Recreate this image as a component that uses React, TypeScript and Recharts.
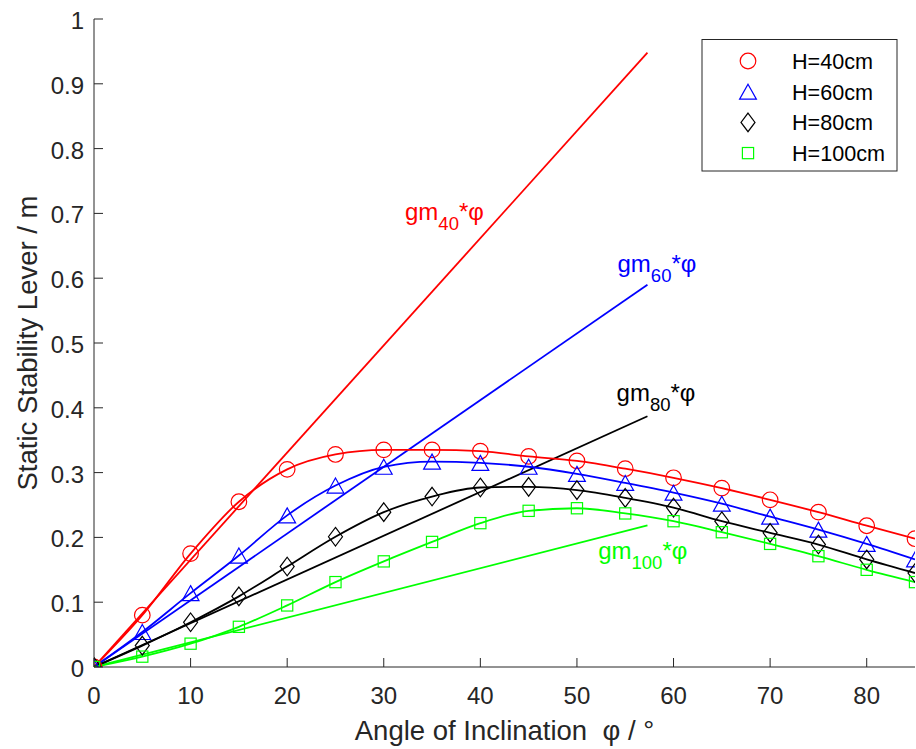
import React from 'react';
import { LineChart, Line, XAxis, YAxis, ReferenceDot } from 'recharts';

// ---------- data ----------
const angles = [0, 5, 10, 15, 20, 25, 30, 35, 40, 45, 50, 55, 60, 65, 70, 75, 80, 85];
const h40 = [0, 0.080, 0.175, 0.255, 0.305, 0.328, 0.335, 0.335, 0.333, 0.325, 0.318, 0.306, 0.292, 0.276, 0.258, 0.239, 0.218, 0.198];
const h60 = [0, 0.054, 0.114, 0.172, 0.234, 0.280, 0.309, 0.317, 0.315, 0.309, 0.298, 0.284, 0.269, 0.252, 0.232, 0.212, 0.190, 0.166];
const h80 = [0, 0.033, 0.069, 0.109, 0.155, 0.201, 0.239, 0.263, 0.277, 0.278, 0.273, 0.261, 0.246, 0.225, 0.207, 0.189, 0.166, 0.145];
const h100 = [0, 0.016, 0.036, 0.062, 0.095, 0.131, 0.163, 0.193, 0.222, 0.241, 0.245, 0.237, 0.225, 0.208, 0.190, 0.171, 0.150, 0.131];

const gmAngles = [0, 57.3];
const gm40 = [0, 0.948];
const gm60 = [0, 0.590];
const gm80 = [0, 0.387];
const gm100 = [0, 0.2185];

const seriesNames = ['H=40cm', 'H=60cm', 'H=80cm', 'H=100cm'];
const gmSubs = ['40', '60', '80', '100'];
const gmLabelX = [32.2, 54.2, 54.1, 52.2];
const gmLabelY = [0.690, 0.610, 0.410, 0.166];

const xTicks = [0, 10, 20, 30, 40, 50, 60, 70, 80];
const yTicks = [0, 0.1, 0.2, 0.3, 0.4, 0.5, 0.6, 0.7, 0.8, 0.9, 1];
const yTickLabels = ['0', '0.1', '0.2', '0.3', '0.4', '0.5', '0.6', '0.7', '0.8', '0.9', '1'];

const xTitle = 'Angle of Inclination  \u03C6 / \u00B0';
const yTitle = 'Static Stability Lever / m';

// ---------- styles ----------
const AXIS = '#262626';
const FONT = '"Liberation Sans", Arial, Helvetica, sans-serif';
const colors = ['#FF0000', '#0000FF', '#000000', '#00FF00'];
const shapes = ['circle', 'triangle', 'diamond', 'square'];

const toPts = (xs: number[], ys: number[]) => xs.map((x, i) => ({ x, y: ys[i] }));
const curves = [h40, h60, h80, h100].map((v) => toPts(angles, v));
const gmLines = [gm40, gm60, gm80, gm100].map((v) => toPts(gmAngles, v));

const Marker = ({ shape, cx, cy, color }: any) => {
  const common = { fill: 'none', stroke: color, strokeWidth: 1.2 };
  if (shape === 'circle') return <circle cx={cx} cy={cy} r={7.8} {...common} />;
  if (shape === 'triangle')
    return <polygon points={`${cx},${cy - 7.5} ${cx + 8.4},${cy + 7.5} ${cx - 8.4},${cy + 7.5}`} {...common} />;
  if (shape === 'diamond')
    return <polygon points={`${cx},${cy - 9.3} ${cx + 7},${cy} ${cx},${cy + 9.3} ${cx - 7},${cy}`} {...common} />;
  return <rect x={cx - 5.6} y={cy - 5.6} width={11.2} height={11.2} {...common} />;
};

const makeDot = (shape: string, color: string) => (p: any) => (
  <Marker key={`${shape}-${p.index}`} shape={shape} cx={p.cx} cy={p.cy} color={color} />
);

const BottomTick = (p: any) => (
  <g>
    <line x1={p.x} x2={p.x} y1={p.y} y2={p.y - 9} stroke={AXIS} />
    <text x={p.x} y={p.y + 36.5} textAnchor="middle" fontSize={24} fill={AXIS} fontFamily={FONT}>
      {p.payload.value}
    </text>
  </g>
);
const TopTick = (p: any) => (
  <g>
    <line x1={p.x} x2={p.x} y1={p.y} y2={p.y + 9} stroke={AXIS} />
  </g>
);
const LeftTick = (p: any) => {
  const idx = yTicks.findIndex((t) => Math.abs(t - p.payload.value) < 1e-9);
  return (
    <g>
      <line x1={p.x} x2={p.x + 9} y1={p.y} y2={p.y} stroke={AXIS} />
      <text x={p.x - 10} y={p.y + 10} textAnchor="end" fontSize={24} fill={AXIS} fontFamily={FONT}>
        {yTickLabels[idx] ?? String(p.payload.value)}
      </text>
    </g>
  );
};
const RightTick = (p: any) => (
  <g>
    <line x1={p.x} x2={p.x - 9} y1={p.y} y2={p.y} stroke={AXIS} />
  </g>
);

const XTitle = (props: any) => {
  const vb = props.viewBox || {};
  const x = (vb.x ?? 94) + (vb.width ?? 821) / 2;
  const y = (vb.y ?? 667) + 73;
  return (
    <text x={x} y={y} textAnchor="middle" fontSize={27.5} fill={AXIS} fontFamily={FONT} style={{ whiteSpace: 'pre' }}>
      {xTitle}
    </text>
  );
};
const YTitle = (props: any) => {
  const vb = props.viewBox || {};
  const x = 37;
  const y = (vb.y ?? 19) + (vb.height ?? 648) / 2;
  return (
    <text x={x} y={y} textAnchor="middle" fontSize={27.5} fill={AXIS} fontFamily={FONT} transform={`rotate(-90, ${x}, ${y})`}>
      {yTitle}
    </text>
  );
};

const gmLabelShape = (sub: string, color: string) => (p: any) => (
  <text x={p.cx} y={p.cy} fill={color} fontSize={24} fontFamily={FONT}>
    gm
    <tspan fontSize={18.5} dy={10}>{sub}</tspan>
    <tspan dy={-10}>*{'\u03C6'}</tspan>
  </text>
);

const LegendBox = () => (
  <svg width={916} height={749} style={{ position: 'absolute', left: 0, top: 0, pointerEvents: 'none' }}>
    <rect x={702} y={39.5} width={195} height={131.5} fill="#FFFFFF" stroke={AXIS} strokeWidth={1} />
    {seriesNames.map((name, i) => {
      const cy = 61 + i * 30.7;
      return (
        <g key={name}>
          <Marker shape={shapes[i]} cx={748} cy={cy} color={colors[i]} />
          <text x={792} y={cy + 8} fontSize={21.6} fill="#000" fontFamily={FONT}>
            {name}
          </text>
        </g>
      );
    })}
  </svg>
);

export default function App() {
  return (
    <div style={{ position: 'absolute', left: 0, top: 0, width: 916, height: 749, background: '#fff' }}>
      <LineChart width={916} height={749} margin={{ top: 19, right: 1, bottom: 0, left: 0 }}>
        <XAxis
          xAxisId={0}
          dataKey="x"
          type="number"
          domain={[0, 85]}
          allowDataOverflow
          ticks={xTicks}
          height={82}
          tickSize={0}
          tickMargin={0}
          tickLine={false}
          axisLine={{ stroke: AXIS }}
          tick={BottomTick}
          interval={0}
          label={XTitle}
        />
        <XAxis
          xAxisId="top"
          orientation="top"
          dataKey="x"
          type="number"
          domain={[0, 85]}
          allowDataOverflow
          ticks={xTicks}
          height={0}
          tickSize={0}
          tickMargin={0}
          tickLine={false}
          axisLine={{ stroke: AXIS }}
          tick={TopTick}
          interval={0}
        />
        <YAxis
          yAxisId={0}
          type="number"
          domain={[0, 1]}
          allowDataOverflow
          ticks={yTicks}
          width={94}
          tickSize={0}
          tickMargin={0}
          tickLine={false}
          axisLine={{ stroke: AXIS }}
          tick={LeftTick}
          interval={0}
          label={YTitle}
        />
        <YAxis
          yAxisId="right"
          orientation="right"
          type="number"
          domain={[0, 1]}
          allowDataOverflow
          ticks={yTicks}
          width={0}
          tickSize={0}
          tickMargin={0}
          tickLine={false}
          axisLine={{ stroke: AXIS }}
          tick={RightTick}
          interval={0}
        />
        {gmLines.map((d, i) => (
          <Line
            key={`gm-${i}`}
            data={d}
            dataKey="y"
            xAxisId={0}
            yAxisId={0}
            type="linear"
            stroke={colors[i]}
            strokeWidth={1.8}
            dot={false}
            activeDot={false}
            isAnimationActive={false}
          />
        ))}
        {curves.map((d, i) => (
          <Line
            key={`curve-${i}`}
            data={d}
            dataKey="y"
            name={seriesNames[i]}
            xAxisId={0}
            yAxisId={0}
            type="monotone"
            stroke={colors[i]}
            strokeWidth={1.8}
            dot={makeDot(shapes[i], colors[i])}
            activeDot={false}
            isAnimationActive={false}
          />
        ))}
        {gmSubs.map((s, i) => (
          <ReferenceDot
            key={`lbl-${s}`}
            x={gmLabelX[i]}
            y={gmLabelY[i]}
            xAxisId={0}
            yAxisId={0}
            r={0}
            shape={gmLabelShape(s, colors[i])}
          />
        ))}
      </LineChart>
      <LegendBox />
    </div>
  );
}
